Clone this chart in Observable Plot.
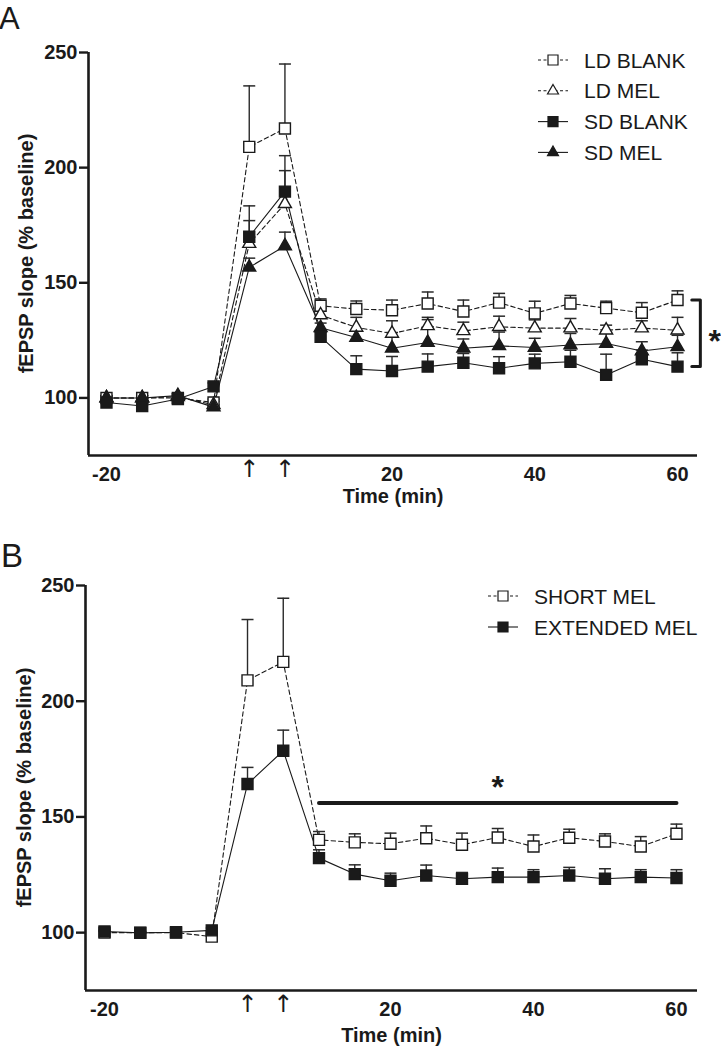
<!DOCTYPE html>
<html><head><meta charset="utf-8">
<script src="https://cdn.jsdelivr.net/npm/d3@7"></script>
<script src="https://cdn.jsdelivr.net/npm/@observablehq/plot@0.6"></script>
<style>
body{margin:0;background:#fff;font-family:"Liberation Sans",Arial,sans-serif;}
.panel{position:relative;width:721px;}
.panel svg{display:block;}
.overlay{position:absolute;left:0;top:0;pointer-events:none;overflow:visible;}
</style></head><body>
<div id="A" class="panel"></div>
<div id="B" class="panel"></div>
<script>
// ---------- data ----------
const time = [-20,-15,-10,-5,0,5,10,15,20,25,30,35,40,45,50,55,60];
const xTicks = [-20,20,40,60];
const yTicks = [100,150,200,250];
const arrowTimes = [0,5];
const yLabel = "fEPSP slope (% baseline)";
const xLabel = "Time (min)";

// Panel A
const ldBlankMean = [100,100,100,98,209,217,140,138.6,138.1,141,137.5,141.4,136.7,141,139,137,142.5];
const ldBlankErr  = [1,1,1,1.5,26.5,28,3,3.5,4.4,5,5,4,5.3,3.5,3,4.4,4];
const ldMelMean   = [100,100,100.5,97,167,184.3,136,130.6,128,131.3,129.1,130.9,130.3,130.3,129.4,130.3,129.4];
const ldMelErr    = [1,1,1,1.5,10,14.4,3,4.4,5.5,3.7,3.8,4.6,3.6,4.2,2.2,3.2,5.6];
const sdBlankMean = [98,96.5,99.5,105,170,189.6,126.5,112.5,111.7,113.6,115.3,112.9,115,115.7,110,116.8,113.6];
const sdBlankErr  = [1,1.5,1,1.5,13.4,15.6,2,5.8,6.3,5.5,4,5,4,5,9,4,6];
const sdMelMean   = [100,100,101,96,156.7,166,130.5,126.2,121.6,124.1,121.6,122.6,121.9,123,123.6,120.4,122.2];
const sdMelErr    = [1,1,1,1,4,6,2,3,6.8,9.9,4,6,4,5,5,4,5];

// Panel B
const shortMelMean = [100,100,100,98.3,209,217,140.1,139,138.4,140.8,138,141.1,137.2,141,139.4,137.2,142.7];
const shortMelErr  = [0.5,0.5,0.5,1,26.3,27.5,3.6,3.7,4.6,5.3,5,3.9,5,3.7,3.3,4.3,4.2];
const extMelMean   = [100.5,99.9,100.2,101,164.2,178.6,132.2,125.3,122.4,124.7,123.3,124,124,124.7,123.3,124,123.6];
const extMelErr    = [0.5,0.5,0.5,1,7.2,8.9,3.6,4,3.3,4.5,2.7,3.9,3.2,3.5,4.3,3.2,3.6];

const seriesA = ["LD BLANK","LD MEL","SD BLANK","SD MEL"];
const seriesB = ["SHORT MEL","EXTENDED MEL"];
const sigSpanB = [10, 60];   // significance bar extent (min)
const sigLevelB = 156;       // significance bar height (% baseline)

// ---------- styles ----------
const INK = "#1a1a1a";
const FONT = "Liberation Sans, Arial, sans-serif";
const styles = {
  "LD BLANK":     {symbol:"square",   fill:"white", dash:"4.5,3"},
  "LD MEL":       {symbol:"triangle", fill:"white", dash:"4.5,3"},
  "SD BLANK":     {symbol:"square",   fill:INK,     dash:null},
  "SD MEL":       {symbol:"triangle", fill:INK,     dash:null},
  "SHORT MEL":    {symbol:"square",   fill:"white", dash:"4.5,3"},
  "EXTENDED MEL": {symbol:"square",   fill:INK,     dash:null}
};
const symR = {square: 11/Math.sqrt(Math.PI), triangle: Math.sqrt((13*13*Math.sqrt(3)/4)/Math.PI)};

const capSymbol = {draw(ctx, size){ const w = Math.sqrt(size/Math.PI); ctx.moveTo(-w,0); ctx.lineTo(w,0); }};

function rows(name, means, errs){
  return time.map((t,i)=>({series:name, time:t, value:means[i], err:errs[i]}));
}
const dataA = {
  "LD BLANK": rows("LD BLANK", ldBlankMean, ldBlankErr),
  "LD MEL": rows("LD MEL", ldMelMean, ldMelErr),
  "SD BLANK": rows("SD BLANK", sdBlankMean, sdBlankErr),
  "SD MEL": rows("SD MEL", sdMelMean, sdMelErr)
};
const dataB = {
  "SHORT MEL": rows("SHORT MEL", shortMelMean, shortMelErr),
  "EXTENDED MEL": rows("EXTENDED MEL", extMelMean, extMelErr)
};

function seriesMarks(data, names, drawOrder){
  const all = names.flatMap(n=>data[n]);
  const m = [];
  for (const n of names) {
    m.push(Plot.line(data[n], {x:"time", y:"value", stroke:INK, strokeWidth:1.1,
      strokeDasharray: styles[n].dash || undefined}));
  }
  m.push(Plot.ruleX(all, {x:"time", y1:"value", y2:d=>d.value+d.err, stroke:"#2a2a2a", strokeWidth:1.4}));
  m.push(Plot.dot(all, {x:"time", y:d=>d.value+d.err, symbol:capSymbol, r:6, stroke:"#2a2a2a", strokeWidth:1.5}));
  for (const n of drawOrder) {
    const s = styles[n];
    m.push(Plot.dot(data[n], {x:"time", y:"value", symbol:s.symbol, r:symR[s.symbol],
      fill:s.fill, stroke:INK, strokeWidth:1.4}));
  }
  return m;
}

function frameMarks(xDomain, yDomain, labelDy){
  return [
    Plot.ruleY([yDomain[0]], {stroke:INK, strokeWidth:2.6}),
    Plot.ruleX([xDomain[0]], {stroke:INK, strokeWidth:2.6}),
    Plot.axisY({ticks:yTicks, tickSize:9, tickPadding:2, fontSize:20, fontWeight:"bold", strokeWidth:2.4, label:null, tickFormat:d=>String(d)}),
    Plot.axisX({ticks:xTicks, tickSize:0, tickPadding:11, fontSize:20, fontWeight:"bold", label:null, tickFormat:d=>String(d)}),
    Plot.text([xLabel], {frameAnchor:"bottom", dy:labelDy, fontSize:20, fontWeight:"bold", fill:INK}),
    Plot.text(arrowTimes, {x:d=>d, text:()=>"\u2191", frameAnchor:"bottom", dy:21, fontSize:24, fill:INK, fontFamily:"DejaVu Sans"})
  ];
}

function overlay(el, w, h){
  return d3.select(el).append("svg").attr("class","overlay").attr("width",w).attr("height",h);
}
function yAxisTitle(svg, x, yc){
  svg.append("text").attr("transform",`translate(${x},${yc}) rotate(-90)`).attr("text-anchor","middle")
    .attr("font-size",20).attr("font-weight","bold").attr("font-family",FONT).attr("fill",INK).text(yLabel);
}
function legend(svg, names, {cx, cy, rowH, textX, half=15, fontSize=21}){
  names.forEach((n,i)=>{
    const s = styles[n];
    const y = cy + i*rowH;
    const g = svg.append("g");
    g.append("line").attr("x1",cx-half).attr("x2",cx+half).attr("y1",y).attr("y2",y)
      .attr("stroke",INK).attr("stroke-width",1.1).attr("stroke-dasharray", s.dash ? "3,2.5" : null);
    const type = s.symbol==="square" ? d3.symbolSquare : d3.symbolTriangle;
    const size = s.symbol==="square" ? 100 : 11*11*Math.sqrt(3)/4;
    g.append("path").attr("d", d3.symbol(type, size)()).attr("transform",`translate(${cx},${y})`)
      .attr("fill", s.fill).attr("stroke",INK).attr("stroke-width",1.2);
    g.append("text").attr("x",textX).attr("y",y).attr("dy","0.36em").attr("font-size",fontSize)
      .attr("font-family",FONT).attr("fill",INK).text(n);
  });
}

// ---------- Panel A ----------
const xDomainA = [-22.52, 62.8];
const yDomain = [75, 250];
const last = time[time.length-1];
const lastVals = seriesA.map(n=>dataA[n][time.length-1].value);
const bTop = d3.max(lastVals), bBot = d3.min(lastVals);
const bracket = [
  {x:last+2.0, y:bTop}, {x:last+3.2, y:bTop}, {x:last+3.2, y:bBot}, {x:last+2.0, y:bBot}
];
const plotA = Plot.plot({
  width:721, height:520, marginTop:52, marginBottom:65, marginLeft:88, marginRight:24,
  x:{domain:xDomainA}, y:{domain:yDomain},
  style:{fontFamily:FONT, color:INK, overflow:"visible"},
  marks:[
    ...frameMarks(xDomainA, yDomain, 47),
    ...seriesMarks(dataA, seriesA, ["LD BLANK","LD MEL","SD MEL","SD BLANK"]),
    Plot.line(bracket, {x:"x", y:"y", stroke:INK, strokeWidth:3}),
    Plot.text(["*"], {x:last+5.2, y:(bTop+bBot)/2, dy:8, fontSize:32, fontWeight:"bold", fill:INK})
  ]
});
const elA = document.getElementById("A");
elA.appendChild(plotA);
const ovA = overlay(elA, 721, 520);
ovA.append("text").attr("x",-1).attr("y",29).attr("font-size",31).attr("fill",INK)
  .attr("font-family",FONT).text("A");
yAxisTitle(ovA, 33, (52 + 455)/2);
legend(ovA, seriesA, {cx:553, cy:60, rowH:30.8, textX:584});

// ---------- Panel B ----------
const xDomainB = [-22.66, 62.94];
const sigBar = [{x:sigSpanB[0], y:sigLevelB}, {x:sigSpanB[1], y:sigLevelB}];
const plotB = Plot.plot({
  width:721, height:527, marginTop:65, marginBottom:57, marginLeft:85, marginRight:24,
  x:{domain:xDomainB}, y:{domain:yDomain},
  style:{fontFamily:FONT, color:INK, overflow:"visible"},
  marks:[
    ...frameMarks(xDomainB, yDomain, 51),
    ...seriesMarks(dataB, seriesB, ["SHORT MEL","EXTENDED MEL"]),
    Plot.line(sigBar, {x:"x", y:"y", stroke:INK, strokeWidth:4, strokeLinecap:"round"}),
    Plot.text(["*"], {x:(sigSpanB[0]+sigSpanB[1])/2, y:sigLevelB, dy:-15, fontSize:32, fontWeight:"bold", fill:INK})
  ]
});
const elB = document.getElementById("B");
elB.appendChild(plotB);
const ovB = overlay(elB, 721, 527);
ovB.append("text").attr("x",1).attr("y",47).attr("font-size",33).attr("fill",INK)
  .attr("font-family",FONT).text("B");
yAxisTitle(ovB, 31, (65 + 470)/2);
legend(ovB, seriesB, {cx:503, cy:76, rowH:31, textX:534});
</script>
</body></html>
